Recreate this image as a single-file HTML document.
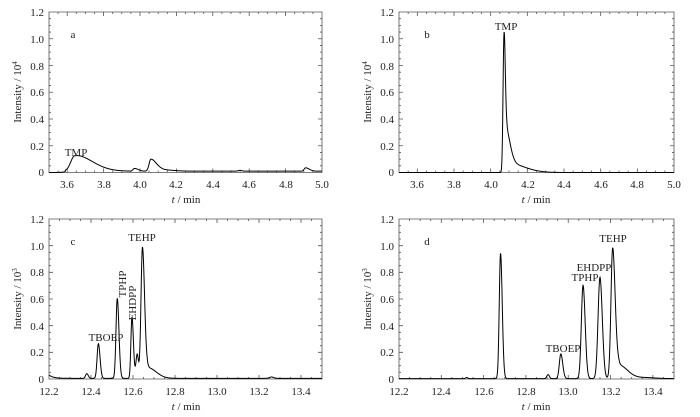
<!DOCTYPE html>
<html><head><meta charset="utf-8"><style>
body{margin:0;background:#fff;width:700px;height:412px;overflow:hidden}
svg{font-family:"Liberation Serif","Times New Roman",serif;font-size:11px}
</style></head><body>
<svg id="s" width="700" height="412" xmlns="http://www.w3.org/2000/svg">
<g id="axes" stroke="#555" fill="none" stroke-width="0.8"></g>
<g id="curves" stroke="#000" fill="none" stroke-width="1"></g>
<g fill="#222" text-anchor="end">
<text x="44" y="16">1.2</text><text x="44" y="43">1.0</text><text x="44" y="70">0.8</text><text x="44" y="96">0.6</text><text x="44" y="123">0.4</text><text x="44" y="150">0.2</text><text x="44" y="176">0</text>
<text x="394" y="16">1.2</text><text x="394" y="43">1.0</text><text x="394" y="70">0.8</text><text x="394" y="96">0.6</text><text x="394" y="123">0.4</text><text x="394" y="150">0.2</text><text x="394" y="176">0</text>
<text x="44" y="223">1.2</text><text x="44" y="250">1.0</text><text x="44" y="276">0.8</text><text x="44" y="303">0.6</text><text x="44" y="330">0.4</text><text x="44" y="356">0.2</text><text x="44" y="383">0</text>
<text x="394" y="223">1.2</text><text x="394" y="250">1.0</text><text x="394" y="276">0.8</text><text x="394" y="303">0.6</text><text x="394" y="330">0.4</text><text x="394" y="356">0.2</text><text x="394" y="383">0</text>
</g>
<g fill="#222" text-anchor="middle">
<text x="67" y="188">3.6</text><text x="104" y="188">3.8</text><text x="140" y="188">4.0</text><text x="176" y="188">4.2</text><text x="213" y="188">4.4</text><text x="249" y="188">4.6</text><text x="286" y="188">4.8</text><text x="322" y="188">5.0</text>
<text x="417" y="188">3.6</text><text x="454" y="188">3.8</text><text x="491" y="188">4.0</text><text x="528" y="188">4.2</text><text x="564" y="188">4.4</text><text x="601" y="188">4.6</text><text x="637" y="188">4.8</text><text x="674" y="188">5.0</text>
<text x="49" y="395">12.2</text><text x="91" y="395">12.4</text><text x="133" y="395">12.6</text><text x="175" y="395">12.8</text><text x="217" y="395">13.0</text><text x="259" y="395">13.2</text><text x="301" y="395">13.4</text>
<text x="399" y="395">12.2</text><text x="441" y="395">12.4</text><text x="484" y="395">12.6</text><text x="526" y="395">12.8</text><text x="568" y="395">13.0</text><text x="611" y="395">13.2</text><text x="653" y="395">13.4</text>
<text x="186" y="203"><tspan font-style="italic">t</tspan> / min</text>
<text x="536" y="203"><tspan font-style="italic">t</tspan> / min</text>
<text x="186" y="410"><tspan font-style="italic">t</tspan> / min</text>
<text x="536" y="410"><tspan font-style="italic">t</tspan> / min</text>
<text transform="translate(21,92) rotate(-90)">Intensity / 10<tspan font-size="7" dy="-4">4</tspan></text>
<text transform="translate(371,92) rotate(-90)">Intensity / 10<tspan font-size="7" dy="-4">4</tspan></text>
<text transform="translate(21,299) rotate(-90)">Intensity / 10<tspan font-size="7" dy="-4">3</tspan></text>
<text transform="translate(371,299) rotate(-90)">Intensity / 10<tspan font-size="7" dy="-4">3</tspan></text>
<text x="73" y="38">a</text><text x="76" y="156">TMP</text>
<text x="427" y="38">b</text><text x="506" y="30">TMP</text>
<text x="73" y="245">c</text><text x="106" y="341">TBOEP</text><text x="142" y="241">TEHP</text>
<text transform="translate(126,284) rotate(-90)">TPHP</text>
<text transform="translate(136,303) rotate(-90)">EHDPP</text>
<text x="427" y="245">d</text><text x="563" y="352">TBOEP</text><text x="585" y="281">TPHP</text><text x="594" y="271">EHDPP</text><text x="613" y="242">TEHP</text>
</g>
</svg>
<script>
var P=[
{L:49,R:322,T:12,B:172.5,x0:3.5,x1:5.0,maj:[3.6,3.8,4.0,4.2,4.4,4.6,4.8,5.0],
 base:function(x){return x<3.59?0:0.01},
 pk:[[3.64,0.10,0.02,0.09],[3.68,0.02,0.05,0.1],[3.97,0.02,0.008,0.02],[4.06,0.09,0.01,0.03],[4.12,0.01,0.02,0.06],[4.55,0.006,0.01,0.01],[4.91,0.025,0.008,0.02]]},
{L:399,R:674,T:12,B:172.5,x0:3.5,x1:5.0,maj:[3.6,3.8,4.0,4.2,4.4,4.6,4.8,5.0],
 base:function(x){return 0},
 pk:[[4.072,0.84,0.005,0.007],[4.078,0.28,0.006,0.025],[4.09,0.07,0.01,0.09]]},
{L:49,R:322,T:219,B:379,x0:12.2,x1:13.5,maj:[12.2,12.4,12.6,12.8,13.0,13.2,13.4],
 base:function(x){return 0.005+0.025*Math.exp(-(x-12.2)/0.02)},
 pk:[[12.38,0.035,0.006,0.007],[12.435,0.26,0.006,0.008],[12.525,0.6,0.006,0.008],[12.595,0.46,0.005,0.007],[12.62,0.18,0.006,0.006],[12.645,0.98,0.007,0.01],[12.67,0.08,0.01,0.04],[13.26,0.01,0.01,0.01]]},
{L:399,R:674,T:219,B:379,x0:12.2,x1:13.5,maj:[12.2,12.4,12.6,12.8,13.0,13.2,13.4],
 base:function(x){return 0.003},
 pk:[[12.52,0.008,0.005,0.005],[12.68,0.94,0.006,0.008],[12.905,0.03,0.006,0.006],[12.965,0.185,0.007,0.009],[13.07,0.7,0.008,0.01],[13.15,0.76,0.009,0.011],[13.21,0.98,0.008,0.012],[13.24,0.1,0.01,0.04],[13.36,0.008,0.05,0.05]]}
];
var ax=document.getElementById('axes'),cv=document.getElementById('curves'),ns='http://www.w3.org/2000/svg';
function add(g,d){var p=document.createElementNS(ns,'path');p.setAttribute('d',d);g.appendChild(p);}
P.forEach(function(p){
 var d='M'+p.L+' '+p.T+'H'+p.R+'V'+p.B+'H'+p.L+'Z';
 var sx=function(x){return p.L+(x-p.x0)/(p.x1-p.x0)*(p.R-p.L)};
 var sy=function(y){return p.B-y/1.2*(p.B-p.T)};
 for(var i=0;i<=24;i++){var y=sy(i*0.05);var l=i%4==0?4:2;d+='M'+p.L+' '+y+'h'+l+'M'+p.R+' '+y+'h'+(-l);}
 for(var x=p.x0;x<=p.x1+1e-6;x+=0.05){var X=sx(x);var m=p.maj.some(function(v){return Math.abs(v-x)<1e-6});var l=m?4:2;d+='M'+X+' '+p.B+'v'+(-l)+'M'+X+' '+p.T+'v'+l;}
 add(ax,d);
 var s='';
 for(var i=0;i<=1000;i++){var x=p.x0+(p.x1-p.x0)*i/1000;var y=p.base(x);
  p.pk.forEach(function(k){var dx=x-k[0];var sg=dx<0?k[2]:k[3];y+=k[1]*Math.exp(-dx*dx/(2*sg*sg));});
  s+=(i?'L':'M')+sx(x).toFixed(2)+' '+sy(y).toFixed(2);}
 add(cv,s);
});
</script>
</body></html>
